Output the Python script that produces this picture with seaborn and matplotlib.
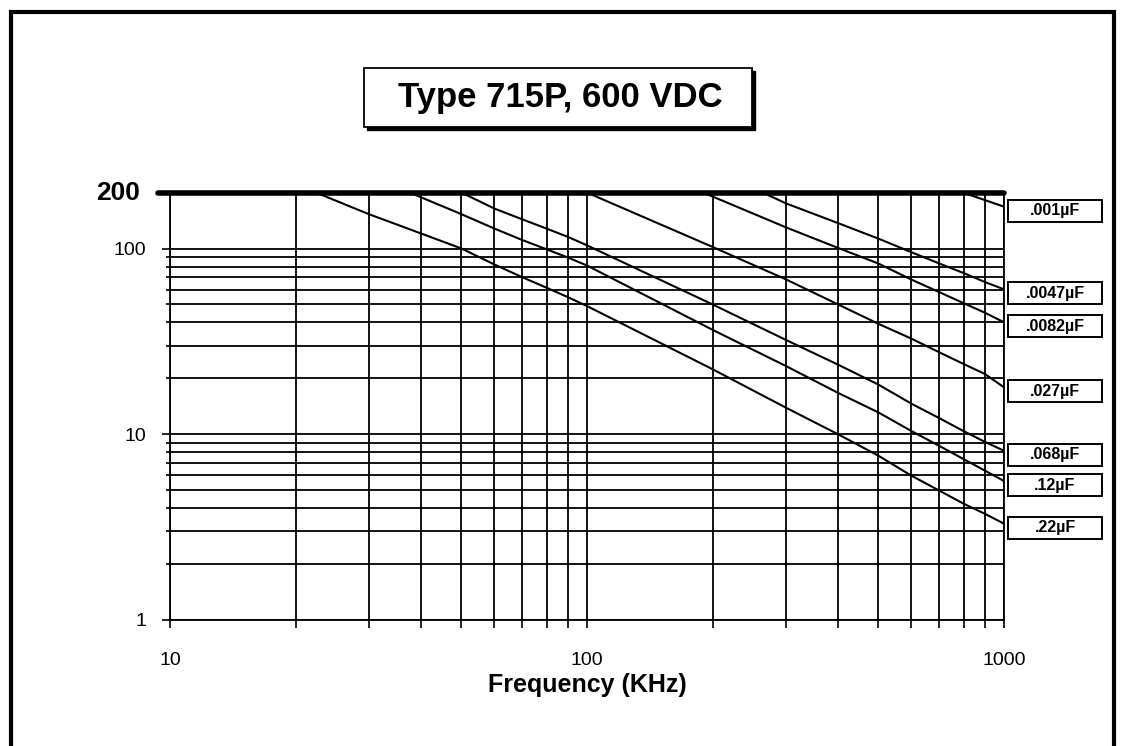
import numpy as np
import pandas as pd
import matplotlib
matplotlib.use('Agg')
import matplotlib.pyplot as plt
import seaborn as sns
from matplotlib import ticker, transforms
from matplotlib.patches import Rectangle

# rated voltage vs frequency
cap_labels = ['.001µF', '.0047µF', '.0082µF', '.027µF', '.068µF', '.12µF', '.22µF']

freq_001 = [798, 1000]
volt_001 = [200, 168]
freq_0047 = [264, 300, 400, 500, 600, 700, 800, 900, 1000]
volt_0047 = [200, 175, 137, 113, 95.5, 83, 73.8, 66, 60.3]
freq_0082 = [190, 300, 400, 500, 600, 700, 800, 900, 1000]
volt_0082 = [200, 130, 100.7, 83, 68, 58.2, 50.8, 45.1, 40.1]
freq_027 = [100, 200, 300, 400, 500, 600, 700, 800, 900, 1000]
volt_027 = [200, 102, 68.2, 50, 39.3, 32.7, 27.6, 23.9, 21.1, 17.9]
freq_068 = [50, 60, 70, 80, 90, 100, 200, 300, 400, 500, 600, 700, 800, 900, 1000]
volt_068 = [200, 164, 143.5, 128, 115.5, 104, 50, 32.2, 23.7, 18.5, 14.6, 12.2, 10.4, 9.1, 8.15]
freq_12 = [37.6, 50, 60, 70, 80, 90, 100, 200, 300, 400, 500, 600, 700, 800, 900, 1000]
volt_12 = [200, 153, 128, 111, 99, 89.4, 81, 36.5, 23.3, 16.7, 13.1, 10.4, 8.65, 7.35, 6.37, 5.6]
freq_22 = [22.4, 30, 40, 50, 60, 70, 80, 90, 100, 200, 300, 400, 500, 600, 700, 800, 900, 1000]
volt_22 = [200, 153, 120.5, 100, 82, 70, 61.5, 54.7, 49, 22.4, 13.9, 10, 7.66, 5.98, 4.97, 4.23, 3.73, 3.3]

freqs = [freq_001, freq_0047, freq_0082, freq_027, freq_068, freq_12, freq_22]
volts = [volt_001, volt_0047, volt_0082, volt_027, volt_068, volt_12, volt_22]

v_max = 200
x_ticks = [10, 100, 1000]
y_ticks = [1, 10, 100]

rows = []
for name, f, v in zip(cap_labels, freqs, volts):
    for fi, vi in zip(f, v):
        rows.append((fi, vi, name))
df = pd.DataFrame(rows, columns=['freq', 'volts', 'cap'])

sns.set_style('white')
plt.rcParams['font.family'] = ['Liberation Sans', 'DejaVu Sans']
plt.rcParams['text.color'] = 'black'
plt.rcParams['xtick.color'] = 'black'
plt.rcParams['ytick.color'] = 'black'
plt.rcParams['axes.labelcolor'] = 'black'

W, H = 1124, 746
fig = plt.figure(figsize=(W / 100, H / 100), dpi=100)
ax = fig.add_axes([170 / W, 1 - 620 / H, 834 / W, (620 - 192.6) / H])
ax.set_xscale('log')
ax.set_yscale('log')

sns.lineplot(data=df, x='freq', y='volts', hue='cap', palette=['black'] * len(cap_labels),
             estimator=None, sort=False, legend=False, lw=1.5, ax=ax)

ax.set_xlim(10, 1000)
ax.set_ylim(1, v_max)

ax.xaxis.set_major_locator(ticker.FixedLocator(x_ticks))
ax.xaxis.set_minor_locator(ticker.LogLocator(base=10, subs=range(2, 10)))
ax.xaxis.set_major_formatter(ticker.FixedFormatter([str(t) for t in x_ticks]))
ax.xaxis.set_minor_formatter(ticker.NullFormatter())
ax.yaxis.set_major_locator(ticker.FixedLocator(y_ticks))
ax.yaxis.set_minor_locator(ticker.LogLocator(base=10, subs=range(2, 10)))
ax.yaxis.set_major_formatter(ticker.FixedFormatter([str(t) for t in y_ticks]))
ax.yaxis.set_minor_formatter(ticker.NullFormatter())

ax.grid(True, which='both', color='black', lw=1.3)
ax.set_axisbelow(True)
for s in ['left', 'bottom', 'right']:
    ax.spines[s].set_color('black')
    ax.spines[s].set_linewidth(1.3)
ax.spines['top'].set_visible(False)

ax.tick_params(axis='x', which='both', length=6, width=1.2, color='black', direction='out',
               bottom=True, labelsize=14, pad=17, labelcolor='black')
ax.tick_params(axis='y', which='major', length=6, width=1.2, color='black', direction='out',
               left=True, labelsize=14, pad=11, labelcolor='black')
ax.tick_params(axis='y', which='minor', length=3, width=1.2, color='black', direction='out', left=True)
ax.set_xlabel('')
ax.set_ylabel('')

# heavy ceiling line at the max rating
ax.axhline(v_max, xmin=-0.014, xmax=1, color='black', lw=4, clip_on=False, zorder=3)
ax.text(-0.036, v_max, str(v_max), transform=transforms.blended_transform_factory(ax.transAxes, ax.transData),
        ha='right', va='center', fontsize=19, fontweight='bold', color='black')

# label boxes at the right end of each curve
blend = transforms.blended_transform_factory(ax.transAxes, ax.transData)
for name, v in zip(cap_labels, volts):
    yc = v[-1] / 10 ** (4 / 187)
    half = 10 ** (11 / 187)
    ax.add_patch(Rectangle((1.0048, yc / half), 0.1127, yc * half - yc / half, transform=blend,
                           fill=True, facecolor='white', edgecolor='black', lw=1.4, clip_on=False))
    ax.text(1.0048 + 0.0564, yc, name, transform=blend, ha='center', va='center',
            fontsize=11.5, fontweight='bold', color='black')

# title box with shadow
fig.add_artist(Rectangle((367 / W, 1 - 130 / H), 388 / W, 59 / H, transform=fig.transFigure,
                         facecolor='black', edgecolor='black'))
fig.add_artist(Rectangle((364 / W, 1 - 127 / H), 388 / W, 59 / H, transform=fig.transFigure,
                         facecolor='white', edgecolor='black', lw=1.3))
fig.text(560 / W, 1 - 97.5 / H, 'Type 715P, 600 VDC', ha='center', va='center',
         fontsize=25, fontweight='bold', color='black')

fig.text(587 / W, 1 - 685 / H, 'Frequency (KHz)', ha='center', va='center',
         fontsize=18, fontweight='bold', color='black')

# outer frame
fig.add_artist(Rectangle((11 / W, -0.05), (1114 - 11) / W, 1 - 12 / H + 0.05, transform=fig.transFigure,
                         fill=False, edgecolor='black', lw=3))

fig.savefig('out.png', dpi=100)
